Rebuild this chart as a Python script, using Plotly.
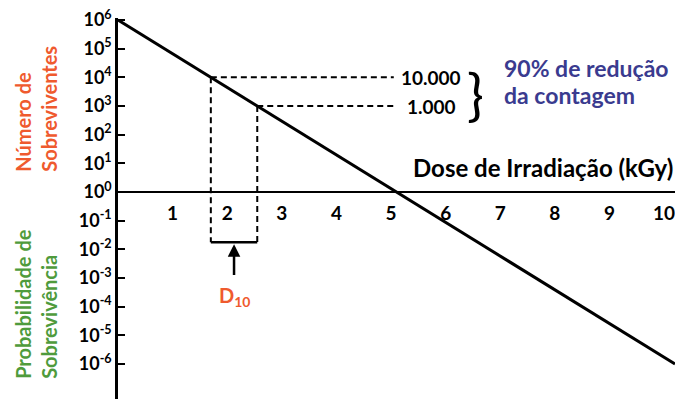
import numpy as np
import plotly.graph_objects as go

# curva de sobrevivência (dose em kGy, número de sobreviventes)
dose_line = [0.0, 10.2]
survivors_line = [1e6, 1e-6]

# pontos usados para indicar o D10
d10_doses = [1.7, 2.55]
d10_counts = [1e4, 1e3]
count_labels = ["10.000", "1.000"]
label_end_dose = 5.05
box_bottom = 10 ** -1.75

x_ticks = list(range(1, 11))
y_exponents = list(range(-6, 7))

ORANGE = "#ef5a2e"
GREEN = "#4f9b3c"
BLUE = "#3a3b8f"
FONT = "Lato"
DASH = dict(color="black", width=2, dash="6px,4px")

fig = go.Figure()

fig.add_trace(go.Scatter(
    x=dose_line, y=np.log10(survivors_line), mode="lines",
    line=dict(color="black", width=3), hoverinfo="skip",
))

for d, c in zip(d10_doses, d10_counts):
    lc = np.log10(c)
    fig.add_trace(go.Scatter(x=[d, label_end_dose], y=[lc, lc], mode="lines",
                             line=DASH, hoverinfo="skip"))
    fig.add_trace(go.Scatter(x=[d, d], y=[lc, np.log10(box_bottom)], mode="lines",
                             line=DASH, hoverinfo="skip"))
fig.add_trace(go.Scatter(
    x=d10_doses, y=np.log10([box_bottom, box_bottom]), mode="lines",
    line=dict(color="black", width=2.5), hoverinfo="skip",
))

for i, (c, txt) in enumerate(zip(d10_counts, count_labels)):
    fig.add_annotation(x=label_end_dose + 0.1 + 0.1 * i, y=np.log10(c), text=txt,
                       xanchor="left", showarrow=False,
                       font=dict(family=FONT, size=19, color="black", weight="bold"))
fig.add_annotation(x=6.54, y=np.log10(np.sqrt(d10_counts[0] * d10_counts[1])) - 0.08,
                   text="}", showarrow=False,
                   font=dict(family=FONT, size=56, color="black"))
fig.add_annotation(x=7.03, y=4.33, text="90% de redução",
                   xanchor="left", showarrow=False,
                   font=dict(family=FONT, size=23, color=BLUE, weight="bold"))
fig.add_annotation(x=7.03, y=3.38, text="da contagem",
                   xanchor="left", showarrow=False,
                   font=dict(family=FONT, size=23, color=BLUE, weight="bold"))
fig.add_annotation(x=10.2, y=0.84, text="Dose de Irradiação (kGy)",
                   xanchor="right", showarrow=False,
                   font=dict(family=FONT, size=24, color="black", weight="bold"))

mid = float(np.mean(d10_doses))
fig.add_annotation(x=mid, y=np.log10(box_bottom) - 0.07, ax=mid, ay=-2.95,
                   axref="x", ayref="y", text="", showarrow=True,
                   arrowhead=2, arrowsize=1, arrowwidth=2.5, arrowcolor="black")
fig.add_annotation(x=mid, y=-3.66, text="D<sub>10</sub>", showarrow=False,
                   font=dict(family=FONT, size=20, color=ORANGE, weight="bold"))

fig.add_annotation(x=-0.147, y=0.762, xref="paper", yref="paper",
                   xanchor="center", yanchor="middle",
                   text="Número de<br>Sobreviventes", textangle=-90, align="left",
                   showarrow=False,
                   font=dict(family=FONT, size=20, color=ORANGE, weight="bold"))
fig.add_annotation(x=-0.147, y=0.25, xref="paper", yref="paper",
                   xanchor="center", yanchor="middle",
                   text="Probabilidade de<br>Sobrevivência", textangle=-90, align="left",
                   showarrow=False,
                   font=dict(family=FONT, size=20, color=GREEN, weight="bold"))

y_min, y_max = -7.22, 6.07
fig.update_layout(
    width=675, height=391,
    margin=dict(l=110, r=8, t=10, b=0),
    paper_bgcolor="white", plot_bgcolor="white",
    showlegend=False,
    font=dict(family=FONT, color="black"),
    xaxis=dict(
        range=[0, 10.2], anchor="free",
        position=(0 - y_min) / (y_max - y_min),
        showline=True, linecolor="black", linewidth=2,
        showgrid=False, zeroline=False,
        tickvals=x_ticks, ticks="", ticklabelstandoff=4,
        tickfont=dict(family=FONT, size=19, color="black", weight="bold"),
    ),
    yaxis=dict(
        range=[y_min, y_max],
        showline=True, linecolor="black", linewidth=2.5,
        showgrid=False, zeroline=False,
        tickvals=y_exponents,
        ticktext=[f"10<sup>{e}</sup>" for e in y_exponents],
        ticks="inside", ticklen=7, tickwidth=2, tickcolor="black",
        ticklabeloverflow="allow",
        tickfont=dict(family=FONT, size=18, color="black", weight="bold"),
    ),
)

fig.write_html("out.html")
